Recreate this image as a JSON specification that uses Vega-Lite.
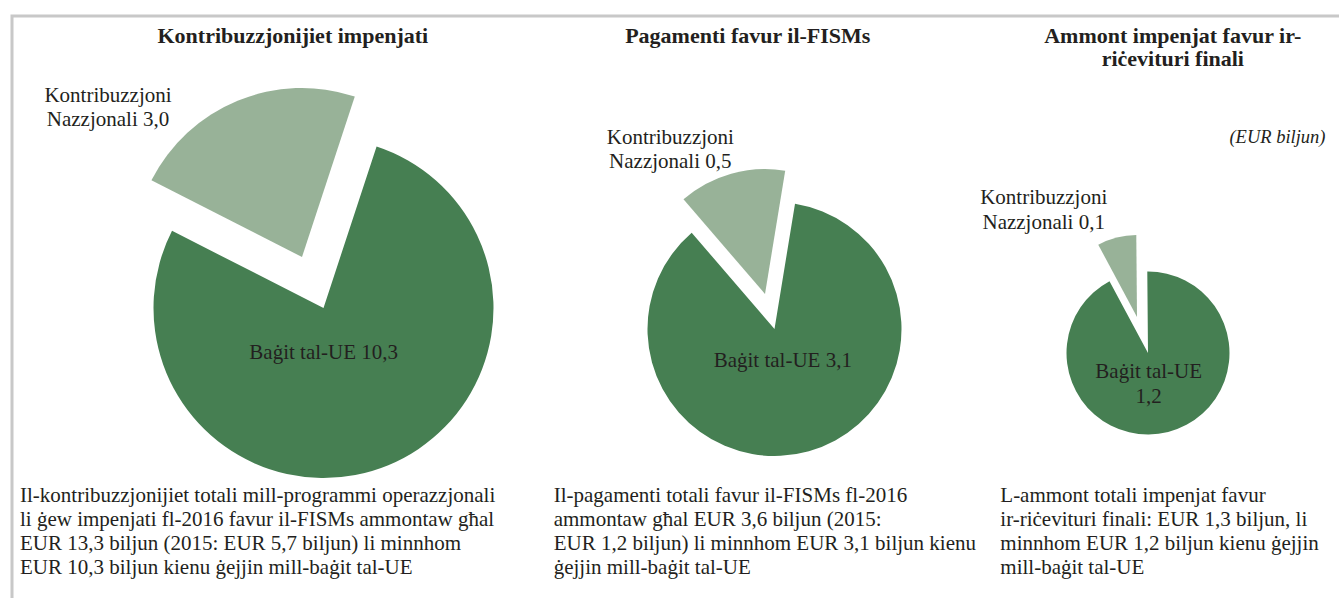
{
  "$schema": "https://vega.github.io/schema/vega-lite/v6.json",
  "background": "white",
  "padding": {"left": 10, "top": 14, "right": 0, "bottom": 0},
  "spacing": 0,
  "bounds": "flush",
  "datasets": {
    "slices": [
      {"pie": "p1", "source": "UE", "value": 10.3, "label": "Baġit tal-UE 10,3"},
      {"pie": "p1", "source": "Nazzjonali", "value": 3.0, "label": "Kontribuzzjoni\nNazzjonali 3,0"},
      {"pie": "p2", "source": "UE", "value": 3.1, "label": "Baġit tal-UE 3,1"},
      {"pie": "p2", "source": "Nazzjonali", "value": 0.5, "label": "Kontribuzzjoni\nNazzjonali 0,5"},
      {"pie": "p3", "source": "UE", "value": 1.2, "label": "Baġit tal-UE\n1,2"},
      {"pie": "p3", "source": "Nazzjonali", "value": 0.1, "label": "Kontribuzzjoni\nNazzjonali 0,1"}
    ],
    "notes": [
      {"pie": "p1", "title": "Kontribuzzjonijiet impenjati", "note": "Il-kontribuzzjonijiet totali mill-programmi operazzjonali\nli ġew impenjati fl-2016 favur il-FISMs ammontaw għal\nEUR 13,3 biljun (2015: EUR 5,7 biljun) li minnhom\nEUR 10,3 biljun kienu ġejjin mill-baġit tal-UE", "unit": ""},
      {"pie": "p2", "title": "Pagamenti favur il-FISMs", "note": "Il-pagamenti totali favur il-FISMs fl-2016\nammontaw għal EUR 3,6 biljun (2015:\nEUR 1,2 biljun) li minnhom EUR 3,1 biljun kienu\nġejjin mill-baġit tal-UE", "unit": ""},
      {"pie": "p3", "title": "Ammont impenjat favur ir-\nriċevituri finali", "note": "L-ammont totali impenjat favur\nir-riċevituri finali: EUR 1,3 biljun, li\nminnhom EUR 1,2 biljun kienu ġejjin\nmill-baġit tal-UE", "unit": "(EUR biljun)"}
    ]
  },
  "hconcat": [
    {
      "width": 530,
      "height": 582,
      "view": {"stroke": "#c8c8c8", "strokeWidth": 3, "strokeDash": [530, 1112, 582]},
      "layer": [
        {
          "data": {"name": "slices"},
          "transform": [
            {"filter": "datum.pie === 'p1'"},
            {"stack": "value", "groupby": ["pie"], "sort": [{"field": "source", "order": "descending"}], "as": ["v0", "v1"]},
            {"filter": "datum.source === 'UE'"}
          ],
          "mark": {"type": "arc", "radius": 170, "xOffset": 46.5, "yOffset": 1},
          "encoding": {
            "theta": {"field": "v0", "type": "quantitative", "stack": null, "scale": {"domain": [0, 13.3], "range": [0.3176, 6.6008]}},
            "theta2": {"field": "v1"},
            "color": {"field": "source", "type": "nominal", "scale": {"domain": ["UE", "Nazzjonali"], "range": ["#467f52", "#98b298"]}, "legend": null}
          }
        },
        {
          "data": {"name": "slices"},
          "transform": [
            {"filter": "datum.pie === 'p1'"},
            {"stack": "value", "groupby": ["pie"], "sort": [{"field": "source", "order": "descending"}], "as": ["v0", "v1"]},
            {"filter": "datum.source === 'Nazzjonali'"}
          ],
          "mark": {"type": "arc", "radius": 169, "xOffset": 25, "yOffset": -50},
          "encoding": {
            "theta": {"field": "v0", "type": "quantitative", "stack": null, "scale": {"domain": [0, 13.3], "range": [0.3176, 6.6008]}},
            "theta2": {"field": "v1"},
            "color": {"field": "source", "type": "nominal", "scale": {"domain": ["UE", "Nazzjonali"], "range": ["#467f52", "#98b298"]}, "legend": null}
          }
        },
        {
          "data": {"name": "slices"},
          "transform": [{"filter": "datum.pie === 'p1' && datum.source === 'UE'"}],
          "mark": {"type": "text", "align": "center", "baseline": "alphabetic", "dx": 46.7, "dy": 52, "fontSize": 21, "lineBreak": "\n", "lineHeight": 24},
          "encoding": {"text": {"field": "label"}}
        },
        {
          "data": {"name": "slices"},
          "transform": [{"filter": "datum.pie === 'p1' && datum.source === 'Nazzjonali'"}],
          "mark": {"type": "text", "align": "center", "baseline": "alphabetic", "dx": -169, "dy": -205, "fontSize": 21, "lineBreak": "\n", "lineHeight": 24},
          "encoding": {"text": {"field": "label"}}
        },
        {
          "data": {"name": "notes"},
          "transform": [{"filter": "datum.pie === 'p1'"}],
          "mark": {"type": "text", "align": "center", "baseline": "alphabetic", "dx": 15.8, "dy": -264, "fontSize": 22, "fontWeight": "bold", "lineBreak": "\n", "lineHeight": 23},
          "encoding": {"text": {"field": "title"}}
        },
        {
          "data": {"name": "notes"},
          "transform": [{"filter": "datum.pie === 'p1'"}],
          "mark": {"type": "text", "align": "left", "baseline": "alphabetic", "dx": -257, "dy": 195, "fontSize": 21, "lineBreak": "\n", "lineHeight": 24},
          "encoding": {"text": {"field": "note"}}
        }
      ]
    },
    {
      "width": 420,
      "height": 582,
      "view": {"stroke": "#c8c8c8", "strokeWidth": 3, "strokeDash": [420, 1584]},
      "layer": [
        {
          "data": {"name": "slices"},
          "transform": [
            {"filter": "datum.pie === 'p2'"},
            {"stack": "value", "groupby": ["pie"], "sort": [{"field": "source", "order": "descending"}], "as": ["v0", "v1"]},
            {"filter": "datum.source === 'UE'"}
          ],
          "mark": {"type": "arc", "radius": 127, "xOffset": 22.5, "yOffset": 22},
          "encoding": {
            "theta": {"field": "v0", "type": "quantitative", "stack": null, "scale": {"domain": [0, 3.6], "range": [0.1623, 6.4455]}},
            "theta2": {"field": "v1"},
            "color": {"field": "source", "type": "nominal", "scale": {"domain": ["UE", "Nazzjonali"], "range": ["#467f52", "#98b298"]}, "legend": null}
          }
        },
        {
          "data": {"name": "slices"},
          "transform": [
            {"filter": "datum.pie === 'p2'"},
            {"stack": "value", "groupby": ["pie"], "sort": [{"field": "source", "order": "descending"}], "as": ["v0", "v1"]},
            {"filter": "datum.source === 'Nazzjonali'"}
          ],
          "mark": {"type": "arc", "radius": 125, "xOffset": 13, "yOffset": -13},
          "encoding": {
            "theta": {"field": "v0", "type": "quantitative", "stack": null, "scale": {"domain": [0, 3.6], "range": [0.1623, 6.4455]}},
            "theta2": {"field": "v1"},
            "color": {"field": "source", "type": "nominal", "scale": {"domain": ["UE", "Nazzjonali"], "range": ["#467f52", "#98b298"]}, "legend": null}
          }
        },
        {
          "data": {"name": "slices"},
          "transform": [{"filter": "datum.pie === 'p2' && datum.source === 'UE'"}],
          "mark": {"type": "text", "align": "center", "baseline": "alphabetic", "dx": 30.8, "dy": 60, "fontSize": 21, "lineBreak": "\n", "lineHeight": 24},
          "encoding": {"text": {"field": "label"}}
        },
        {
          "data": {"name": "slices"},
          "transform": [{"filter": "datum.pie === 'p2' && datum.source === 'Nazzjonali'"}],
          "mark": {"type": "text", "align": "center", "baseline": "alphabetic", "dx": -81.7, "dy": -163.5, "fontSize": 21, "lineBreak": "\n", "lineHeight": 24},
          "encoding": {"text": {"field": "label"}}
        },
        {
          "data": {"name": "notes"},
          "transform": [{"filter": "datum.pie === 'p2'"}],
          "mark": {"type": "text", "align": "center", "baseline": "alphabetic", "dx": -4.2, "dy": -264, "fontSize": 22, "fontWeight": "bold", "lineBreak": "\n", "lineHeight": 23},
          "encoding": {"text": {"field": "title"}}
        },
        {
          "data": {"name": "notes"},
          "transform": [{"filter": "datum.pie === 'p2'"}],
          "mark": {"type": "text", "align": "left", "baseline": "alphabetic", "dx": -198.3, "dy": 195, "fontSize": 21, "lineBreak": "\n", "lineHeight": 24},
          "encoding": {"text": {"field": "note"}}
        }
      ]
    },
    {
      "width": 377,
      "height": 582,
      "view": {"stroke": "#c8c8c8", "strokeWidth": 3, "strokeDash": [377, 1541]},
      "layer": [
        {
          "data": {"name": "slices"},
          "transform": [
            {"filter": "datum.pie === 'p3'"},
            {"stack": "value", "groupby": ["pie"], "sort": [{"field": "source", "order": "descending"}], "as": ["v0", "v1"]},
            {"filter": "datum.source === 'UE'"}
          ],
          "mark": {"type": "arc", "radius": 81.5, "xOffset": -2.5, "yOffset": 46},
          "encoding": {
            "theta": {"field": "v0", "type": "quantitative", "stack": null, "scale": {"domain": [0, 1.3], "range": [-0.0087, 6.2745]}},
            "theta2": {"field": "v1"},
            "color": {"field": "source", "type": "nominal", "scale": {"domain": ["UE", "Nazzjonali"], "range": ["#467f52", "#98b298"]}, "legend": null}
          }
        },
        {
          "data": {"name": "slices"},
          "transform": [
            {"filter": "datum.pie === 'p3'"},
            {"stack": "value", "groupby": ["pie"], "sort": [{"field": "source", "order": "descending"}], "as": ["v0", "v1"]},
            {"filter": "datum.source === 'Nazzjonali'"}
          ],
          "mark": {"type": "arc", "radius": 82, "xOffset": -13.5, "yOffset": 10},
          "encoding": {
            "theta": {"field": "v0", "type": "quantitative", "stack": null, "scale": {"domain": [0, 1.3], "range": [-0.0087, 6.2745]}},
            "theta2": {"field": "v1"},
            "color": {"field": "source", "type": "nominal", "scale": {"domain": ["UE", "Nazzjonali"], "range": ["#467f52", "#98b298"]}, "legend": null}
          }
        },
        {
          "data": {"name": "slices"},
          "transform": [{"filter": "datum.pie === 'p3' && datum.source === 'UE'"}],
          "mark": {"type": "text", "align": "center", "baseline": "alphabetic", "dx": -1.8, "dy": 71, "fontSize": 21, "lineBreak": "\n", "lineHeight": 24.5},
          "encoding": {"text": {"field": "label"}}
        },
        {
          "data": {"name": "slices"},
          "transform": [{"filter": "datum.pie === 'p3' && datum.source === 'Nazzjonali'"}],
          "mark": {"type": "text", "align": "center", "baseline": "alphabetic", "dx": -106.8, "dy": -103.3, "fontSize": 21, "lineBreak": "\n", "lineHeight": 25},
          "encoding": {"text": {"field": "label"}}
        },
        {
          "data": {"name": "notes"},
          "transform": [{"filter": "datum.pie === 'p3'"}],
          "mark": {"type": "text", "align": "center", "baseline": "alphabetic", "dx": 22.3, "dy": -264, "fontSize": 22, "fontWeight": "bold", "lineBreak": "\n", "lineHeight": 23},
          "encoding": {"text": {"field": "title"}}
        },
        {
          "data": {"name": "notes"},
          "transform": [{"filter": "datum.pie === 'p3'"}],
          "mark": {"type": "text", "align": "right", "baseline": "alphabetic", "dx": 175, "dy": -164, "fontSize": 18.5, "fontStyle": "italic"},
          "encoding": {"text": {"field": "unit"}}
        },
        {
          "data": {"name": "notes"},
          "transform": [{"filter": "datum.pie === 'p3'"}],
          "mark": {"type": "text", "align": "left", "baseline": "alphabetic", "dx": -150.2, "dy": 195, "fontSize": 21, "lineBreak": "\n", "lineHeight": 24},
          "encoding": {"text": {"field": "note"}}
        }
      ]
    }
  ],
  "config": {
    "view": {"stroke": null},
    "font": "Liberation Serif",
    "text": {"font": "Liberation Serif", "color": "#231f20"},
    "mark": {"font": "Liberation Serif"}
  }
}
